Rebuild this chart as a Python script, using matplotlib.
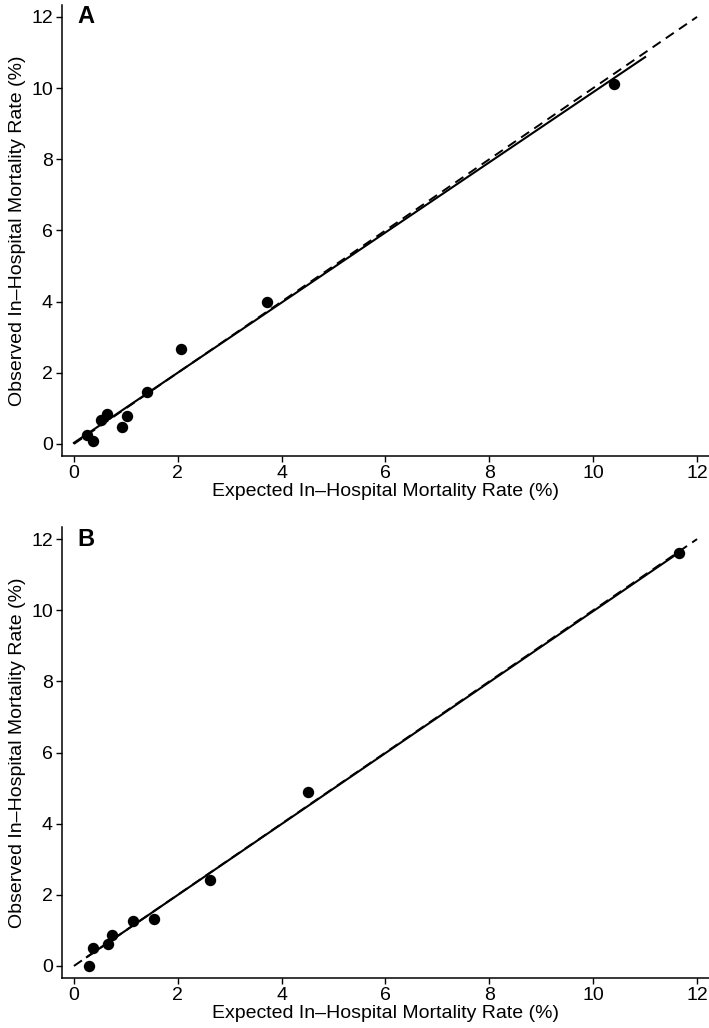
import matplotlib

matplotlib.use("Agg")
import matplotlib.pyplot as plt  # noqa: E402

plt.rcParams["font.family"] = ["Liberation Sans", "DejaVu Sans"]

# Panel A: expected vs observed in-hospital mortality (%)
exp_a = [0.25, 0.37, 0.52, 0.63, 0.92, 1.02, 1.40, 2.07, 3.72, 10.40]
obs_a = [0.25, 0.07, 0.68, 0.84, 0.47, 0.78, 1.47, 2.67, 4.00, 10.12]
fit_a_x = [0.0, 11.0]
fit_a_y = [0.03, 10.87]

# Panel B
exp_b = [0.29, 0.37, 0.65, 0.73, 1.13, 1.55, 2.63, 4.50, 11.65]
obs_b = [0.00, 0.50, 0.61, 0.86, 1.27, 1.33, 2.42, 4.88, 11.60]
fit_b_x = [0.25, 11.65]
fit_b_y = [0.25, 11.62]

ref_line = [0.0, 12.0]
ticks = [0, 2, 4, 6, 8, 10, 12]

fig = plt.figure(figsize=(7.09, 10.28), dpi=100)
ax_a = fig.add_axes([0.0874, 0.5564, 0.9126, 0.4386])
ax_b = fig.add_axes([0.0874, 0.0486, 0.9126, 0.4384])

panels = [
    (ax_a, exp_a, obs_a, fit_a_x, fit_a_y, "A"),
    (ax_b, exp_b, obs_b, fit_b_x, fit_b_y, "B"),
]

for ax, xs, ys, fx, fy, letter in panels:
    ax.plot(ref_line, ref_line, color="black", lw=1.4, ls=(0, (5.0, 3.2)))
    ax.plot(fx, fy, color="black", lw=1.5)
    ax.plot(xs, ys, "o", color="black", ms=7.2, zorder=3)
    ax.set_xlim(-0.23, 12.23)
    ax.set_ylim(-0.34, 12.33)
    ax.set_xticks(ticks)
    ax.set_yticks(ticks)
    ax.spines["top"].set_visible(False)
    ax.spines["right"].set_visible(False)
    ax.spines["left"].set_linewidth(1.1)
    ax.spines["bottom"].set_linewidth(1.1)
    ax.tick_params(direction="out", length=4.5, width=1.0, labelsize=14, pad=2)
    ax.set_xlabel("Expected In–Hospital Mortality Rate (%)", fontsize=14, labelpad=1)
    ax.set_ylabel("Observed In–Hospital Mortality Rate (%)", fontsize=14, labelpad=4)
    ax.text(0.06, 12.0, letter, fontsize=17, fontweight="bold", va="center", ha="left")

fig.savefig("out.png", dpi=100)
plt.close(fig)
